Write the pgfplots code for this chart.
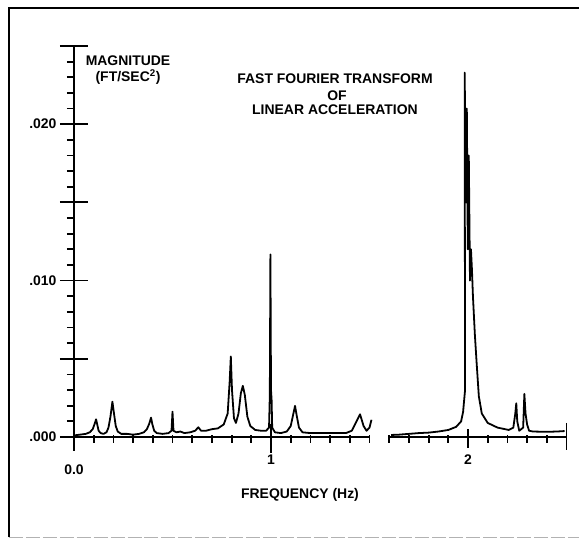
\documentclass[border=0pt]{standalone}
\usepackage{pgfplots}
\pgfplotsset{compat=1.18}
\usepackage{fontspec}
\setmainfont{Liberation Sans}
\begin{document}
\begin{tikzpicture}[x=1bp,y=1bp]
\useasboundingbox (-74,-101) rectangle (505,437);
\begin{axis}[
  at={(0,0)}, anchor=south west,
  scale only axis, width=492.5bp, height=391bp,
  xmin=0, xmax=2.5, ymin=0, ymax=0.025,
  axis x line=bottom, axis y line=left,
  x axis line style={draw=none},
  y axis line style={line width=2.2pt,-},
  clip=false,
  font=\bfseries\fontsize{14}{16}\selectfont,
  tick style={black, line width=1.8pt},
  tick align=center,
  major tick length=28bp, minor tick length=8bp,
  xtick={1,2}, xticklabels={1,2},
  extra x ticks={0}, extra x tick labels={0.0},
  extra x tick style={xticklabel style={yshift=-10bp}},
  minor xtick={0.1,0.2,0.3,0.4,0.5,0.6,0.7,0.8,0.9,1.1,1.2,1.3,1.4,1.5,1.6,1.7,1.8,1.9,2.1,2.2,2.3,2.4},
  ytick={0,0.005,0.01,0.015,0.02,0.025},
  yticklabels={.000,,.010,,.020,},
  minor ytick={0.001,0.002,0.003,0.004,0.006,0.007,0.008,0.009,0.011,0.012,0.013,0.014,0.016,0.017,0.018,0.019,0.021,0.022,0.023,0.024},
  every major x tick/.append style={shorten <=5bp, shorten >=5bp, yshift=-1.5bp},
  every minor x tick/.append style={yshift=-2bp},
  every minor y tick/.append style={xshift=-3bp},
  scaled y ticks=false,
]
\addplot[black, line width=1.8pt, line join=round] coordinates {
(0.00,0.00010) (0.03,0.00015) (0.06,0.00020) (0.08,0.00030) (0.095,0.00050)
(0.105,0.00085) (0.112,0.00113) (0.118,0.00080) (0.125,0.00040) (0.135,0.00025)
(0.15,0.00020) (0.165,0.00030) (0.175,0.00060) (0.185,0.00130) (0.195,0.00226)
(0.203,0.00150) (0.212,0.00070) (0.222,0.00035) (0.24,0.00020) (0.27,0.00020)
(0.30,0.00015) (0.33,0.00020) (0.355,0.00030) (0.370,0.00050) (0.382,0.00085)
(0.391,0.00124) (0.398,0.00080) (0.407,0.00040) (0.42,0.00025) (0.45,0.00020)
(0.48,0.00025) (0.495,0.00040) (0.500,0.00162) (0.505,0.00040) (0.52,0.00030)
(0.54,0.00035) (0.56,0.00025) (0.59,0.00030) (0.615,0.00040) (0.631,0.00062)
(0.645,0.00040) (0.67,0.00040) (0.70,0.00050) (0.73,0.00055) (0.76,0.00080)
(0.78,0.00150) (0.79,0.00350) (0.796,0.00515) (0.802,0.00300) (0.812,0.00120)
(0.822,0.00090) (0.835,0.00150) (0.847,0.00280) (0.857,0.00327) (0.867,0.00270)
(0.880,0.00130) (0.895,0.00070) (0.92,0.00045) (0.95,0.00040) (0.975,0.00040)
(0.990,0.00060) (0.994,0.00270) (0.997,0.01167) (1.000,0.00300) (1.003,0.00240)
(1.006,0.00060) (1.02,0.00030) (1.05,0.00025) (1.08,0.00035) (1.10,0.00070)
(1.112,0.00140) (1.122,0.00199) (1.130,0.00140) (1.142,0.00060) (1.16,0.00030)
(1.20,0.00025) (1.30,0.00025) (1.38,0.00025) (1.41,0.00040) (1.43,0.00090)
(1.452,0.00145) (1.47,0.00070) (1.485,0.00040) (1.50,0.00060) (1.51,0.00110)
};
\addplot[black, line width=1.8pt, line join=round] coordinates {
(1.61,0.00013) (1.65,0.00015) (1.70,0.00020) (1.75,0.00025) (1.80,0.00028)
(1.85,0.00035) (1.90,0.00045) (1.94,0.00065) (1.965,0.00100) (1.975,0.00160)
(1.985,0.00300) (1.983,0.02330) (1.990,0.01500) (1.994,0.02100) (1.999,0.01200)
(2.004,0.01800) (2.010,0.01000) (2.015,0.01200) (2.020,0.01070) (2.025,0.00900)
(2.035,0.00650) (2.045,0.00450) (2.055,0.00260) (2.07,0.00150) (2.10,0.00090)
(2.15,0.00060) (2.207,0.00045) (2.230,0.00060) (2.240,0.00150)
(2.245,0.00216) (2.250,0.00100) (2.260,0.00040) (2.280,0.00060) (2.286,0.00276)
(2.292,0.00150) (2.300,0.00080) (2.310,0.00040) (2.33,0.00035) (2.40,0.00033)
(2.45,0.00035) (2.49,0.00038)
};
\draw[line width=2.2pt] (axis cs:0,0) -- (axis cs:1.5,0);
\draw[line width=2.2pt] (axis cs:1.6,0) -- (axis cs:2.5,0);
\draw[line width=2.2pt] (axis cs:0,0) -- ++(0,-14bp);
\draw[line width=1.8pt] (axis cs:2.5,0) ++(0,14bp) -- ++(0,-27bp);
\end{axis}
% frame
\draw[line width=2pt] (-65,-100) -- (-65,429) -- (505,429);
\draw[line width=1pt, gray!60, dash pattern=on 14pt off 3pt] (-65,-100) -- (505,-100);
% texts
\node[font=\bfseries\fontsize{14}{16}\selectfont, align=center] at (54,367) {MAGNITUDE\\(FT/SEC\textsuperscript{2})};
\node[font=\bfseries\fontsize{14}{16}\selectfont] at (261,358) {FAST FOURIER TRANSFORM};
\node[font=\bfseries\fontsize{14}{16}\selectfont] at (263,341) {OF};
\node[font=\bfseries\fontsize{14}{16}\selectfont] at (261,327) {LINEAR ACCELERATION};
\node[font=\bfseries\fontsize{14}{16}\selectfont] at (226,-58) {FREQUENCY (Hz)};
\end{tikzpicture}
\end{document}
